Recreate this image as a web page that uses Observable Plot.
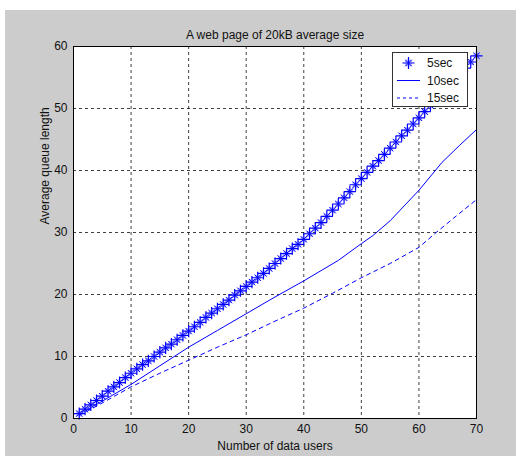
<!DOCTYPE html>
<html>
<head>
<meta charset="utf-8">
<script src="https://cdn.jsdelivr.net/npm/d3@7"></script>
<script src="https://cdn.jsdelivr.net/npm/@observablehq/plot@0.6"></script>
<style>
  html, body { margin: 0; padding: 0; background: #ffffff; }
  #wrap { position: relative; width: 517px; height: 461px; }
  #chart { position: absolute; left: 5px; top: 10px; }
  #legend { position: absolute; left: 392px; top: 52px; width: 76px; height: 55px;
            background: #ffffff; border: 1px solid #333; box-sizing: border-box; }
  #legend svg { display: block; }
</style>
</head>
<body>
<div id="wrap">
  <div id="chart"></div>
  <div id="legend"></div>
</div>
<script>
const title = "A web page of 20kB average size";
const xLabel = "Number of data users";
const yLabel = "Average queue length";
const xTicks = [0, 10, 20, 30, 40, 50, 60, 70];
const yTicks = [0, 10, 20, 30, 40, 50, 60];
const seriesNames = ["5sec", "10sec", "15sec"];

// 5sec: marker at every user count
const users5 = [1,2,3,4,5,6,7,8,9,10,11,12,13,14,15,16,17,18,19,20,21,22,23,24,25,26,27,28,29,30,
  31,32,33,34,35,36,37,38,39,40,41,42,43,44,45,46,47,48,49,50,51,52,53,54,55,56,57,58,59,60,
  61,62,63,64,65,66,67,68,69,70];
const queue5 = [0.8,1.5,2.2,2.9,3.6,4.4,5.1,5.8,6.6,7.3,
  8.0,8.7,9.3,10.0,10.7,11.4,12.0,12.7,13.4,14.1,
  14.8,15.5,16.3,17.0,17.7,18.4,19.1,19.9,20.6,21.3,
  22.0,22.7,23.4,24.2,25.0,25.8,26.6,27.4,28.1,28.9,
  29.8,30.7,31.6,32.6,33.6,34.6,35.6,36.6,37.7,38.7,
  39.7,40.7,41.6,42.6,43.6,44.6,45.6,46.5,47.5,48.5,
  49.5,50.5,51.5,52.5,53.5,54.5,55.5,56.5,57.5,58.5];

// 10sec: solid line
const users10 = [1,5,10,15,20,25,30,35,40,46,50,52,55,60,64,67,70];
const queue10 = [0.7,2.8,5.5,8.5,11.5,14.2,16.9,19.6,22.2,25.5,28.2,29.5,31.9,36.8,41.3,44.0,46.6];

// 15sec: dashed line
const users15 = [1,5,10,15,20,25,30,35,40,45,50,55,60,63,66,70];
const queue15 = [0.5,2.5,5.1,7.3,9.4,11.5,13.5,15.7,17.8,20.2,22.7,25.0,27.6,30.0,32.3,35.3];

const blue = "#0000ff";
const d5 = users5.map((x, i) => ({x, y: queue5[i]}));
const d10 = users10.map((x, i) => ({x, y: queue10[i]}));
const d15 = users15.map((x, i) => ({x, y: queue15[i]}));

const fontFamily = "'Liberation Sans', Arial, Helvetica, sans-serif";

const chart = Plot.plot({
  width: 511,
  height: 446,
  marginLeft: 68,
  marginTop: 36,
  marginRight: 40,
  marginBottom: 38,
  style: { background: "#cccccc", fontSize: "12px", fontFamily, color: "#111" },
  x: { domain: [0, 70], ticks: xTicks, tickSize: 0, tickPadding: 6, label: null },
  y: { domain: [0, 60], ticks: yTicks, tickSize: 0, tickPadding: 6, label: null },
  marks: [
    Plot.frame({ fill: "white" }),
    Plot.ruleX(xTicks.slice(1, -1), { stroke: "#000", strokeOpacity: 0.75, strokeDasharray: "3,3" }),
    Plot.ruleY(yTicks.slice(1, -1), { stroke: "#000", strokeOpacity: 0.75, strokeDasharray: "3,3" }),
    Plot.line(d10, { x: "x", y: "y", stroke: blue, strokeWidth: 1 }),
    Plot.line(d15, { x: "x", y: "y", stroke: blue, strokeWidth: 1, strokeDasharray: "4,4" }),
    Plot.dot(d5, { x: "x", y: "y", symbol: "square", r: 3.4, fill: "#8c8cff", fillOpacity: 0.55, stroke: "none" }),
    Plot.dot(d5, { x: "x", y: "y", symbol: "plus", r: 4, stroke: blue, strokeWidth: 1.2 }),
    Plot.dot(d5, { x: "x", y: "y", symbol: "times", r: 3, stroke: blue, strokeWidth: 1 }),
    Plot.frame({ stroke: "#000", strokeWidth: 1 }),
    Plot.text([title], { frameAnchor: "top", dy: -16, text: d => d, fontSize: 12, fill: "#111" }),
    Plot.text([xLabel], { frameAnchor: "bottom", dy: 31, text: d => d, fontSize: 12, fill: "#111" }),
    Plot.text([yLabel], { frameAnchor: "left", dx: -28, dy: -8, rotate: -90, text: d => d, fontSize: 12, fill: "#111" })
  ]
});
document.getElementById("chart").appendChild(chart);

// Legend (HTML overlay, MATLAB-style box)
const leg = d3.select("#legend").append("svg").attr("width", 74).attr("height", 53)
  .style("font-family", fontFamily).style("font-size", "12px");
const rows = leg.selectAll("g").data(seriesNames).join("g")
  .attr("transform", (d, i) => `translate(0, ${10 + i * 17.5})`);
rows.append("text").attr("x", 34).attr("y", 0).attr("dy", "0.35em").attr("fill", "#111").text(d => d);
rows.filter((d, i) => i === 0).each(function() {
  const g = d3.select(this);
  g.append("rect").attr("x", 12).attr("y", -3.4).attr("width", 6.8).attr("height", 6.8).attr("fill", "#8c8cff").attr("fill-opacity", 0.55);
  g.append("path").attr("d", d3.symbol(d3.symbolPlus, 50)()).attr("transform", "translate(15.5,0)").attr("stroke", blue).attr("stroke-width", 1.2).attr("fill", "none");
  g.append("path").attr("d", d3.symbol(d3.symbolTimes, 28)()).attr("transform", "translate(15.5,0)").attr("stroke", blue).attr("stroke-width", 1).attr("fill", "none");
});
rows.filter((d, i) => i === 1).append("line").attr("x1", 4).attr("x2", 27).attr("stroke", blue);
rows.filter((d, i) => i === 2).append("line").attr("x1", 4).attr("x2", 27).attr("stroke", blue).attr("stroke-dasharray", "3,3");
</script>
</body>
</html>
